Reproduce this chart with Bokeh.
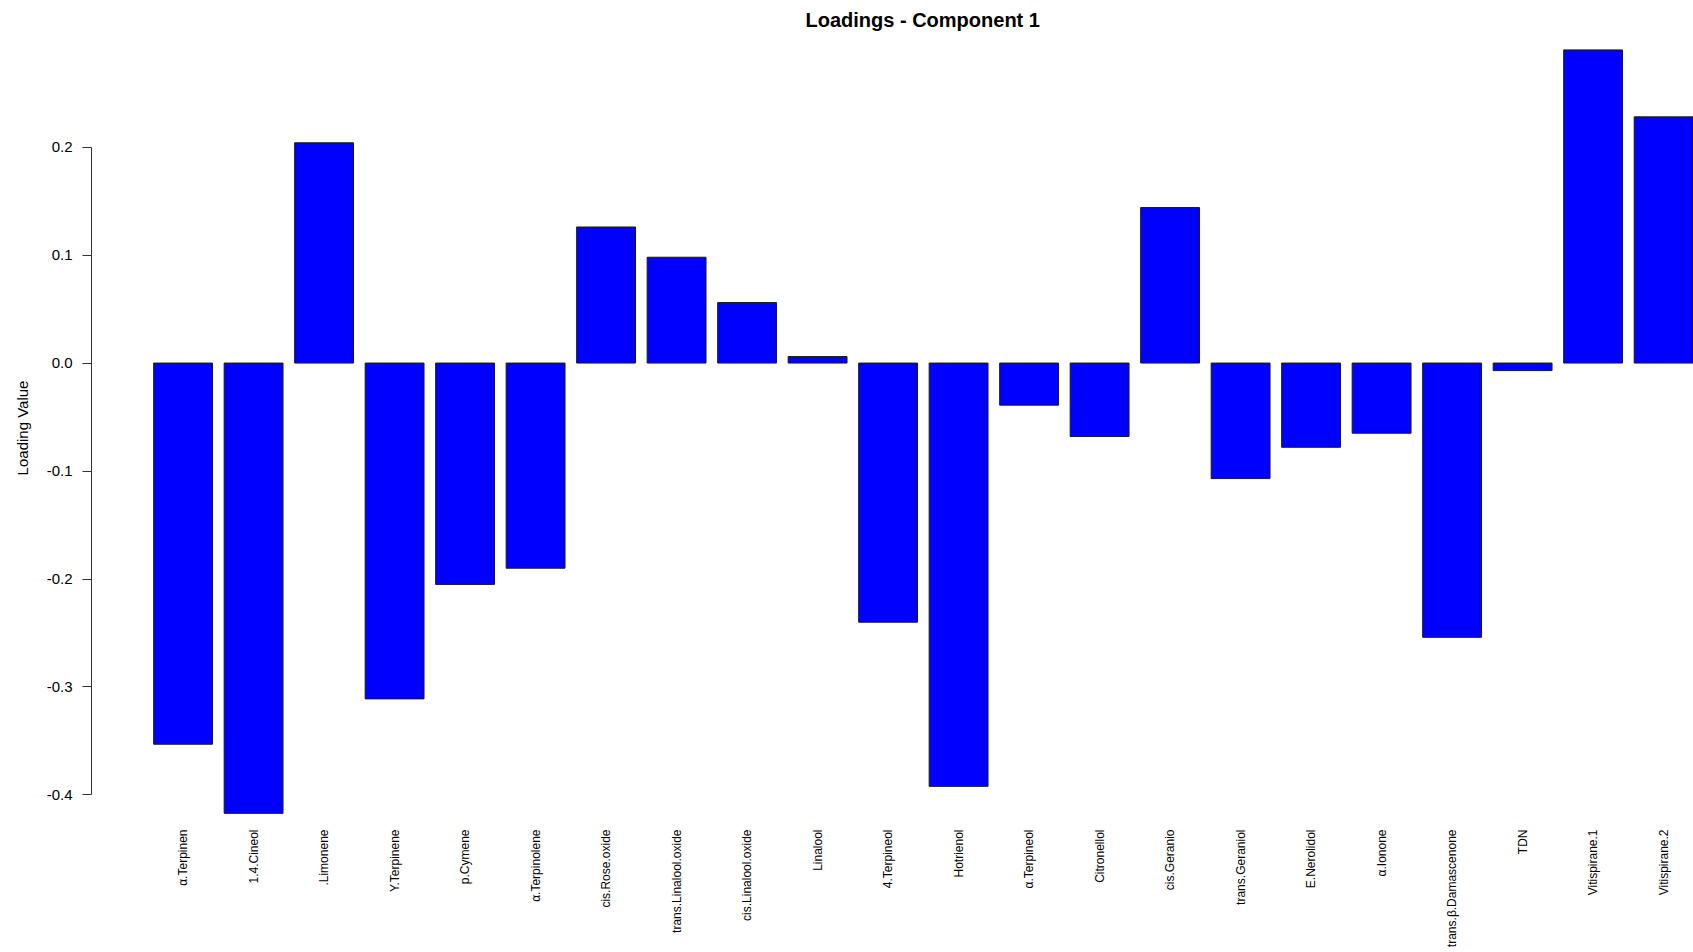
import math
from bokeh.plotting import figure
from bokeh.models import FixedTicker, PrintfTickFormatter, Range1d, ColumnDataSource
from bokeh.embed import file_html
from bokeh.resources import INLINE

compounds = [
    "α.Terpinen", "1.4.Cineol", ".Limonene", "Y.Terpinene", "p.Cymene",
    "α.Terpinolene", "cis.Rose.oxide", "trans.Linalool.oxide", "cis.Linalool.oxide",
    "Linalool", "4.Terpineol", "Hotrienol", "α.Terpineol", "Citronellol",
    "cis.Geranio", "trans.Geraniol", "E.Nerolidol", "α.Ionone",
    "trans.β.Damascenone", "TDN", "Vitispirane.1", "Vitispirane.2",
]
loadings = [
    -0.353, -0.417, 0.204, -0.311, -0.205,
    -0.190, 0.126, 0.098, 0.056,
    0.006, -0.240, -0.392, -0.039, -0.068,
    0.144, -0.107, -0.078, -0.065,
    -0.254, -0.007, 0.290, 0.228,
]
y_ticks = [-0.4, -0.3, -0.2, -0.1, 0.0, 0.1, 0.2]

FONT = "Liberation Sans"

idx = list(range(len(compounds)))
src = ColumnDataSource(dict(x=idx, top=loadings, name=compounds))

p = figure(
    width=1693, height=952,
    output_backend="svg", toolbar_location=None,
    x_range=Range1d(-1.299, 21.424),
    y_range=Range1d(-0.419, 0.2987),
    min_border_left=91, min_border_right=0,
    min_border_top=40, min_border_bottom=137,
    title="Loadings - Component 1",
)
p.vbar(x="x", top="top", bottom=0, width=0.835, source=src,
       fill_color="#0000FF", line_color="#1a1a1a", line_width=1)

p.outline_line_color = None
p.xgrid.visible = False
p.ygrid.visible = False
p.background_fill_color = "white"
p.border_fill_color = "white"

# title
p.title.text_font = FONT
p.title.text_font_size = "20px"
p.title.text_font_style = "bold"
p.title.text_color = "black"
p.title.align = "left"
p.title.offset = 714
p.title.vertical_align = "top"
p.title.standoff = 15

# x axis: labels only
xa = p.xaxis[0]
xa.ticker = FixedTicker(ticks=idx)
xa.major_label_overrides = {i: n for i, n in zip(idx, compounds)}
xa.major_label_orientation = math.pi / 2
xa.axis_line_color = None
xa.major_tick_line_color = None
xa.minor_tick_line_color = None
xa.major_tick_out = 0
xa.major_tick_in = 0
xa.major_label_standoff = 14
xa.major_label_text_font = FONT
xa.major_label_text_font_size = "12px"
xa.major_label_text_color = "black"

# y axis
ya = p.yaxis[0]
ya.ticker = FixedTicker(ticks=y_ticks)
ya.formatter = PrintfTickFormatter(format="%.1f")
ya.bounds = (-0.4, 0.2)
ya.axis_line_color = "#333333"
ya.major_tick_line_color = "#333333"
ya.minor_tick_line_color = None
ya.major_tick_out = 9
ya.major_tick_in = 0
ya.major_label_standoff = 10
ya.major_label_text_font = FONT
ya.major_label_text_font_size = "15px"
ya.major_label_text_color = "black"
ya.axis_label = "Loading Value"
ya.axis_label_text_font = FONT
ya.axis_label_text_font_size = "15px"
ya.axis_label_text_font_style = "normal"
ya.axis_label_text_color = "black"
ya.axis_label_standoff = 13

open("out.html", "w").write(file_html(p, INLINE))
